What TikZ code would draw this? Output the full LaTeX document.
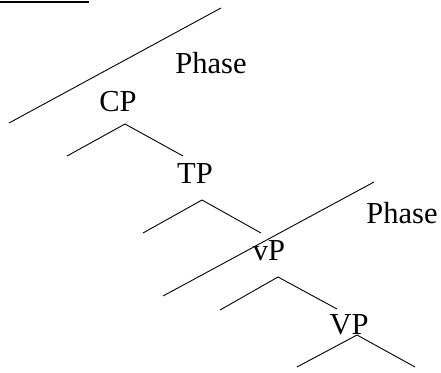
\documentclass[tikz,border=0pt]{standalone}
\usepackage{fontspec}
\setmainfont{Liberation Serif}
\usepackage{tikz}
\usetikzlibrary{positioning}

\begin{document}
\begin{tikzpicture}[x=1pt, y=-1pt, semithick]

    \tikzstyle{lbl} = [inner sep=0pt, font=\fontsize{30.5}{34}\selectfont]
    \tikzstyle{branch} = [draw=black, line width=0.9pt]

    \useasboundingbox (0,0) rectangle (441,372);

    % labels
    \node (cp)     [lbl] at (118,102)          {CP};
    \node (tp)     [lbl] at (195,174)          {TP};
    \node (vp)     [lbl] at (269,251)          {vP};
    \node (bigvp)  [lbl] at (349,325)          {VP};
    \node (phase1) [lbl] at (211,63)           {Phase};
    \node (phase2) [lbl] at (402,213)          {Phase};

    % branch points
    \coordinate (cptop)    at (125,124);
    \coordinate (cpleft)   at (67,156);
    \coordinate (cpright)  at (183,156);
    \coordinate (tptop)    at (202,200);
    \coordinate (tpleft)   at (143,233);
    \coordinate (tpright)  at (261,233);
    \coordinate (vptop)    at (278,277);
    \coordinate (vpleft)   at (220,310);
    \coordinate (vpright)  at (337,309);
    \coordinate (bvptop)   at (357,335);
    \coordinate (bvpleft)  at (297,367);
    \coordinate (bvpright) at (415,367);

    % phase boundaries
    \coordinate (ph1a) at (9,123);
    \coordinate (ph1b) at (221,8);
    \coordinate (ph2a) at (163,296);
    \coordinate (ph2b) at (374,182);
    \coordinate (bara) at (0,2);
    \coordinate (barb) at (89,2);

    \path[branch]  (cpleft)   -- (cptop)   -- (cpright);
    \path[branch]  (tpleft)   -- (tptop)   -- (tpright);
    \path[branch]  (vpleft)   -- (vptop)   -- (vpright);
    \path[branch]  (bvpleft)  -- (bvptop)  -- (bvpright);

    \path[branch]  (ph1a) -- (ph1b);
    \path[branch]  (ph2a) -- (ph2b);
    \path[draw, line width=2.5pt] (bara) -- (barb);

\end{tikzpicture}
\end{document}
